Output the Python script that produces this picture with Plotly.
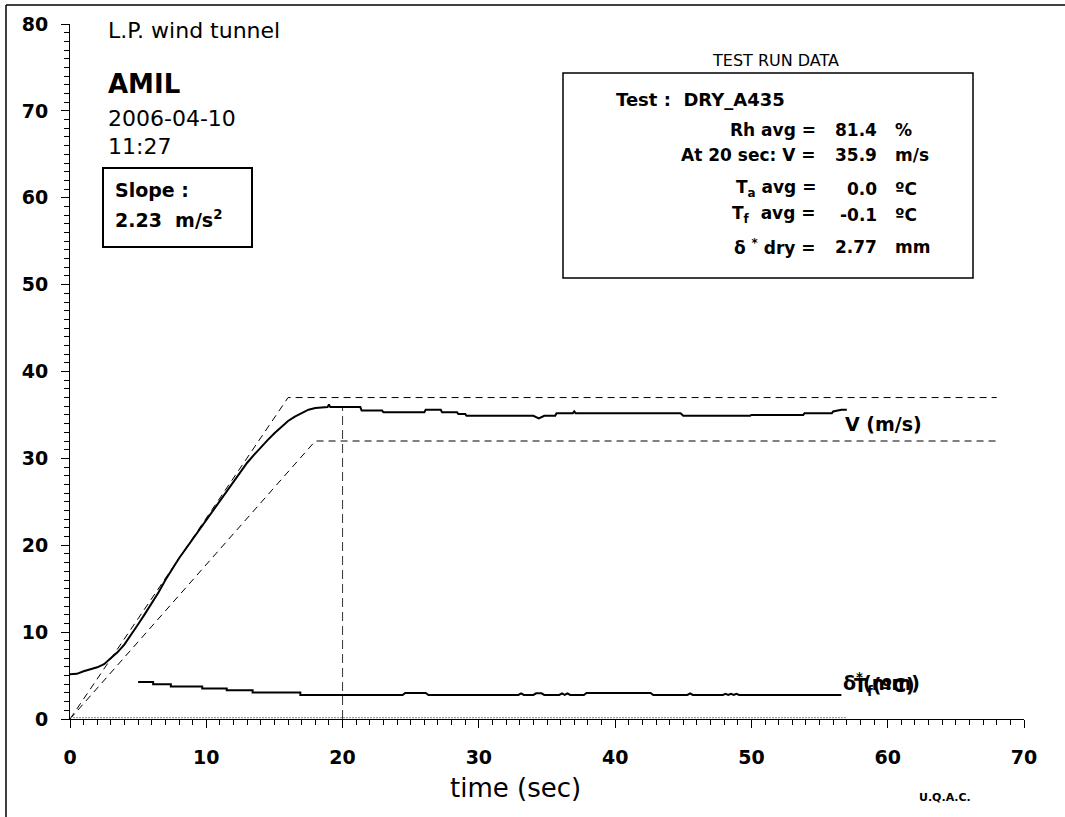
import plotly.graph_objects as go

# ---- wind tunnel run: velocity V (m/s) vs time ----
t_v = [0, 0.5, 1, 1.5, 2, 2.5, 3, 3.5, 4, 4.5, 5, 5.5, 6, 6.5, 7, 7.5, 8, 8.5,
       9, 9.5, 10, 10.5, 11, 11.5, 12, 12.5, 13, 13.5, 14, 14.5, 15, 15.5, 16,
       16.5, 17, 17.5, 18,
       18.9, 19.0, 19.1, 21.3, 21.4, 22.9, 23.0, 26.0, 26.1, 27.2, 27.3, 28.4,
       28.5, 29.0, 29.1, 34.0, 34.4, 34.8, 35.6, 35.7, 36.9, 37.0, 37.1, 44.8,
       45.0, 49.9, 50.0, 53.8, 53.9, 55.9, 56.0, 56.6, 57.0]
v = [5.15, 5.2, 5.5, 5.75, 5.95, 6.3, 7.0, 7.7, 8.6, 9.7, 10.9, 12.1, 13.3,
     14.6, 16.0, 17.3, 18.5, 19.6, 20.7, 21.9, 23.0, 24.1, 25.2, 26.3, 27.4,
     28.5, 29.5, 30.4, 31.3, 32.1, 32.9, 33.6, 34.3, 34.8, 35.2, 35.6, 35.8,
     35.9, 36.2, 35.9, 35.9, 35.5, 35.5, 35.3, 35.3, 35.6, 35.6, 35.3, 35.3,
     35.1, 35.1, 34.9, 34.9, 34.6, 34.9, 34.9, 35.2, 35.2, 35.4, 35.2, 35.2,
     34.9, 34.9, 35.0, 35.0, 35.2, 35.2, 35.4, 35.6, 35.6]

# ---- displacement thickness delta* (mm) ----
t_d = [5.0, 6.1, 6.1, 7.4, 7.4, 9.7, 9.7, 11.5, 11.5, 13.4, 13.4, 16.9, 16.9,
       24.4, 24.6, 26.1, 26.3, 32.9, 33.1, 33.3, 34.0, 34.2, 34.6, 34.8, 35.9,
       36.1, 36.3, 36.5, 36.7, 37.7, 37.9, 42.6, 42.8, 45.3, 45.5, 45.7, 47.9,
       48.1, 48.3, 48.5, 48.7, 48.9, 49.1, 56.6]
d = [4.25, 4.25, 4.0, 4.0, 3.75, 3.75, 3.5, 3.5, 3.3, 3.3, 3.05, 3.05, 2.77,
     2.77, 3.0, 3.0, 2.77, 2.77, 2.95, 2.77, 2.77, 2.95, 2.95, 2.77, 2.77,
     2.95, 2.77, 2.95, 2.77, 2.77, 3.0, 3.0, 2.77, 2.77, 2.95, 2.77, 2.77,
     2.9, 2.77, 2.9, 2.77, 2.9, 2.77, 2.77]

# ---- film temperature Tf (deg C) ----
t_f = [0, 57]
tf = [0.15, 0.15]

# ---- acceleration envelope (dashed) and 20 s marker ----
t_upper = [0, 16, 68]
v_upper = [0, 37.0, 37.0]
t_lower = [0, 18, 68]
v_lower = [0, 32.0, 32.0]
t_mark = [20, 20]
v_mark = [0, 35.9]

x_ticks = [0, 10, 20, 30, 40, 50, 60, 70]
y_ticks = [0, 10, 20, 30, 40, 50, 60, 70, 80]

FONT = "DejaVu Sans, Arial, sans-serif"
W, H = 1065, 817
ML, MR, MT, MB = 70, 41, 24, 98
PW, PH = W - ML - MR, H - MT - MB


def fx(px):
    return (px - ML) / PW


def fy(py):
    return (H - MB - py) / PH


fig = go.Figure()
dash = "7px,5px"
fig.add_trace(go.Scatter(x=t_upper, y=v_upper, mode="lines",
                         line=dict(color="black", width=1, dash=dash)))
fig.add_trace(go.Scatter(x=t_lower, y=v_lower, mode="lines",
                         line=dict(color="black", width=1, dash=dash)))
fig.add_trace(go.Scatter(x=t_mark, y=v_mark, mode="lines",
                         line=dict(color="black", width=0.8, dash="9px,5px")))
fig.add_trace(go.Scatter(x=t_f, y=tf, mode="lines",
                         line=dict(color="#8a8a8a", width=1, dash="2px,1px")))
fig.add_trace(go.Scatter(x=t_d, y=d, mode="lines",
                         line=dict(color="black", width=2)))
fig.add_trace(go.Scatter(x=t_v, y=v, mode="lines",
                         line=dict(color="black", width=2)))

ann = []


def text(px, py, s, size, bold=False, anchor="left", color="black"):
    ann.append(dict(x=fx(px), y=fy(py), xref="paper", yref="paper", text=s,
                    showarrow=False, xanchor=anchor, yanchor="middle",
                    font=dict(family=FONT, size=size, color=color,
                              weight="bold" if bold else "normal")))


# header block
text(106, 31, "L.P. wind tunnel", 22)
text(106, 84, "AMIL", 26, bold=True)
text(106, 118, "2006-04-10", 22)
text(106, 147, "11:27", 22)
text(113, 190, "Slope :", 19, bold=True)
text(113, 219, "2.23  m/s<sup>2</sup>", 19, bold=True)

# test run data box
text(775, 60, "TEST RUN DATA", 16, anchor="center")
text(614, 99, "Test :  DRY_A435", 18, bold=True)
rows = [
    (130, "Rh avg =", "81.4", "%"),
    (155, "At 20 sec: V =", "35.9", "m/s"),
    (189, "T<sub>a</sub> avg =", "0.0", "ºC"),
    (215, "T<sub>f</sub>  avg =", "-0.1", "ºC"),
    (247, "δ <sup>*</sup> dry =", "2.77", "mm"),
]
for py, lab, val, unit in rows:
    text(818, py, lab, 17, bold=True, anchor="right")
    text(879, py, val, 17, bold=True, anchor="right")
    text(893, py, unit, 17, bold=True)

# series labels
text(843, 424, "V (m/s)", 19, bold=True)
text(841, 682, "δ<sup>*</sup>(mm)", 19, bold=True)
text(852, 686, "T<sub>f</sub>(ºC)", 19, bold=True)

# axis title and footer
text(515, 788, "time (sec)", 26, anchor="center")
text(945, 797, "U.Q.A.C.", 11, bold=True, anchor="center")

shapes = [
    dict(type="rect", xref="paper", yref="paper", x0=fx(103), x1=fx(252),
         y0=fy(168), y1=fy(247), line=dict(color="black", width=2)),
    dict(type="rect", xref="paper", yref="paper", x0=fx(563), x1=fx(973),
         y0=fy(73), y1=fy(278), line=dict(color="black", width=1.5)),
    dict(type="line", xref="paper", yref="paper", x0=fx(6), x1=fx(1066),
         y0=fy(5), y1=fy(5), line=dict(color="black", width=1.5)),
    dict(type="line", xref="paper", yref="paper", x0=fx(6), x1=fx(6),
         y0=fy(5), y1=fy(818), line=dict(color="black", width=1.5)),
]

axis_common = dict(showgrid=False, zeroline=False, showline=True,
                   linecolor="black", linewidth=1, ticks="outside",
                   ticklen=8, tickwidth=1, tickcolor="black",
                   tickfont=dict(family=FONT, size=19, color="black",
                                 weight="bold"),
                   minor=dict(dtick=1, ticks="outside", ticklen=5,
                              tickwidth=1, tickcolor="black", showgrid=False))

fig.update_layout(
    width=W, height=H,
    margin=dict(l=ML, r=MR, t=MT, b=MB),
    paper_bgcolor="white", plot_bgcolor="white",
    showlegend=False,
    xaxis=dict(range=[0, 70], tickvals=x_ticks, ticklabelstandoff=13,
               **axis_common),
    yaxis=dict(range=[0, 80], tickvals=y_ticks, ticklabelstandoff=9,
               **axis_common),
    annotations=ann,
    shapes=shapes,
)

fig.write_html("out.html")
